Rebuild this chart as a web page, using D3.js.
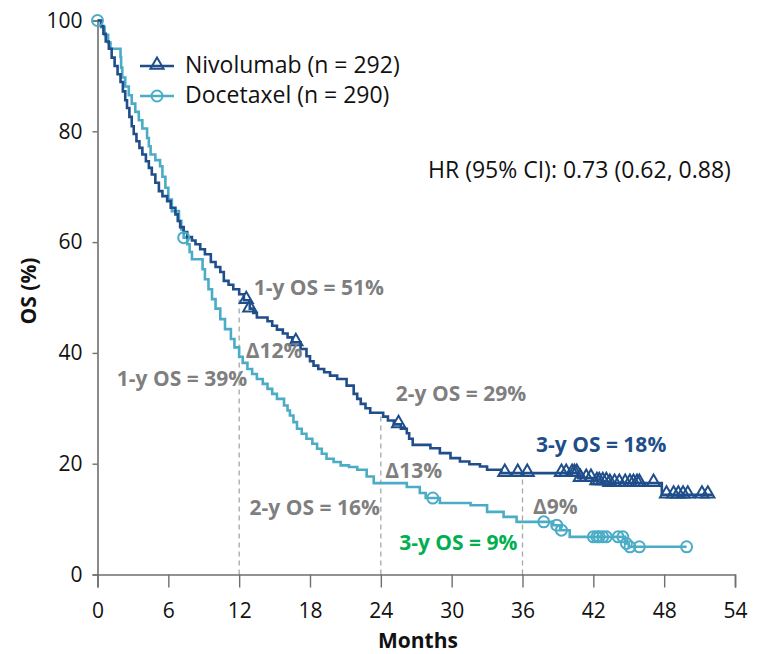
<!DOCTYPE html>
<html>
<head>
<meta charset="utf-8">
<script src="https://cdn.jsdelivr.net/npm/d3@7"></script>
<style>
  body { margin: 0; background: #fff; }
  text { font-family: "Open Sans", "DejaVu Sans", sans-serif; }
</style>
</head>
<body>
<svg id="chart" width="782" height="654"></svg>
<script>
// Kaplan-Meier step points: [month, overall survival %]
const nivolumabSteps = [
  [0,100],[0.3,99.0],[0.5,97.6],[0.7,96.2],[0.96,94.9],[1.2,93.3],[1.45,91.8],[1.7,90.3],
  [1.95,88.9],[2.15,87.2],[2.35,85.6],[2.5,84.2],[2.7,82.6],[2.9,80.9],[3.07,79.5],[3.3,78.2],
  [3.55,77.0],[3.8,75.8],[4.1,74.6],[4.35,73.4],[4.6,72.2],[4.9,70.7],[5.2,69.2],[5.5,68.3],
  [5.9,67.4],[6.2,66.2],[6.6,65.0],[6.8,63.8],[7.0,62.7],[7.3,61.8],[7.6,60.9],[8.0,60.3],
  [8.3,59.6],[8.7,58.7],[9.1,57.8],[9.6,56.4],[10.0,55.5],[10.4,54.6],[10.7,53.0],[11.1,52.3],
  [11.5,51.5],[12.0,50.6],[12.4,49.5],[12.9,48.0],[13.2,47.2],[13.5,46.4],[14.4,45.7],[14.8,44.9],
  [15.2,44.2],[15.7,43.5],[16.1,42.8],[16.5,41.9],[17.2,40.7],[17.7,39.4],[18.0,38.5],[18.3,37.7],
  [18.7,37.1],[19.2,36.5],[19.7,35.9],[20.3,35.3],[21.1,34.1],[21.7,32.6],[22.0,31.7],[22.3,30.8],
  [22.7,30.0],[23.1,29.2],[24.2,28.5],[24.6,27.8],[25.1,27.1],[25.7,26.3],[26.2,25.5],[26.4,24.5],
  [26.7,23.4],[28.2,22.8],[29.0,21.9],[29.9,21.0],[30.7,20.4],[31.5,19.9],[32.4,19.5],[33.0,18.9],
  [34.2,18.3],[40.7,17.4],[42.3,16.8],[43.4,16.5],[47.8,14.4],[52.1,14.4]
];
const docetaxelSteps = [
  [0,100],[0.3,98.8],[0.6,97.4],[0.9,96.0],[1.1,94.9],[1.95,93.4],[2.0,91.5],[2.1,89.7],
  [2.35,88.1],[2.65,86.5],[2.9,85.0],[3.2,83.5],[3.5,82.0],[3.8,80.5],[4.2,78.8],[4.35,77.3],
  [4.5,75.8],[4.9,74.8],[5.3,73.7],[5.5,71.8],[5.75,69.8],[6.0,67.7],[6.3,65.6],[6.9,63.8],
  [7.1,62.3],[7.3,60.8],[7.6,59.6],[7.8,58.2],[8.0,56.9],[8.9,55.1],[9.1,53.3],[9.4,51.5],
  [9.7,49.7],[10.0,48.0],[10.4,46.1],[10.8,44.3],[11.3,42.5],[11.6,41.0],[12.0,39.3],[12.3,38.2],
  [12.7,37.1],[13.1,36.2],[13.5,35.3],[14.0,34.4],[14.4,33.5],[14.8,32.6],[15.2,31.7],[15.8,30.5],
  [16.1,29.6],[16.3,28.7],[16.6,27.5],[16.9,26.3],[17.3,25.4],[17.7,24.5],[18.2,23.6],[18.6,22.7],
  [19.0,21.8],[19.4,20.9],[20.0,20.3],[20.6,19.7],[21.3,19.4],[22.0,18.9],[22.8,17.7],[23.4,16.5],
  [26.2,15.8],[27.3,14.7],[27.8,13.8],[29.0,12.9],[31.6,12.5],[33.0,11.3],[34.4,10.4],[35.5,9.5],
  [38.6,8.9],[39.2,8.0],[40.0,6.8],[44.7,5.6],[45.0,5.0],[49.9,5.0]
];
// Censored observations (months)
const nivolumabCensored = [12.6,12.9,16.8,25.5,34.5,35.6,36.4,39.3,39.7,40.2,40.4,40.6,40.9,
  41.4,41.8,42.3,42.5,42.8,43.1,43.4,43.8,44.2,44.7,45.1,45.4,45.7,45.9,47.1,
  48.2,48.8,49.2,49.6,50.0,51.2,51.7];
const docetaxelCensored = [7.3,28.4,37.8,38.9,39.3,42.0,42.3,42.5,42.8,43.1,44.1,44.5,44.8,45.1,45.9,49.9];

const monthTicks = [0,6,12,18,24,30,36,42,48,54];
const osTicks = [0,20,40,60,80,100];
const landmarkMonths = [12,24,36];
const nivolumabLandmarkOS = [51,29,18];
const docetaxelLandmarkOS = [39,16,9];
const seriesLabels = ["Nivolumab (n = 292)", "Docetaxel (n = 290)"];
const hazardRatioLabel = "HR (95% CI): 0.73 (0.62, 0.88)";
const xAxisTitle = "Months";
const yAxisTitle = "OS (%)";

const NIVO = "#1f4e8a", DOCE = "#4bacc6", GREY = "#7f7f7f", GREEN = "#00b050";

const svg = d3.select("#chart");
svg.append("rect").attr("width", 782).attr("height", 654).attr("fill", "#fff");

const x = d3.scaleLinear().domain([0, 54]).range([97.5, 735]);
const y = d3.scaleLinear().domain([0, 100]).range([574.5, 20.5]);

// survival value of a step curve at a given month
function survivalAt(steps, t) {
  let v = steps[0][1];
  for (const [m, s] of steps) { if (m <= t) v = s; else break; }
  return v;
}

// landmark guide lines
svg.append("g").selectAll("line").data(landmarkMonths).join("line")
  .attr("x1", d => x(d)).attr("x2", d => x(d))
  .attr("y1", y(0)).attr("y2", d => y(survivalAt(nivolumabSteps, d)))
  .attr("stroke", "#a6a6a6").attr("stroke-width", 1.3).attr("stroke-dasharray", "5,4");

// axes
const xAxis = svg.append("g").attr("transform", `translate(0,${y(0)})`)
  .call(d3.axisBottom(x).tickValues(monthTicks).tickSize(13).tickPadding(16).tickFormat(d3.format("d")));
const yAxis = svg.append("g").attr("transform", `translate(${x(0)},0)`)
  .call(d3.axisLeft(y).tickValues(osTicks).tickSize(5).tickPadding(10).tickFormat(d3.format("d")));
[xAxis, yAxis].forEach(g => {
  g.select(".domain").attr("stroke", "#6f6f6f").attr("stroke-width", 1.6);
  g.selectAll(".tick line").attr("stroke", "#6f6f6f").attr("stroke-width", 1.4);
  g.selectAll(".tick text").attr("fill", "#111").attr("font-size", 21)
    .style("font-family", '"Open Sans", sans-serif');
});
xAxis.selectAll(".tick text").attr("dy", "0.71em");

svg.append("text").attr("x", 418).attr("y", 648).attr("text-anchor", "middle")
  .attr("font-size", 21).attr("font-weight", "bold")
  .attr("fill", "#111").text(xAxisTitle);
svg.append("text").attr("transform", "translate(28,291) rotate(-90)").attr("text-anchor", "middle")
  .attr("dominant-baseline", "central").attr("font-size", 21).attr("font-weight", "bold")
  .attr("fill", "#111").text(yAxisTitle);

// curves
const line = d3.line().x(d => x(d[0])).y(d => y(d[1])).curve(d3.curveStepAfter);
svg.append("path").datum(docetaxelSteps).attr("d", line)
  .attr("fill", "none").attr("stroke", DOCE).attr("stroke-width", 2.6);
svg.append("path").datum(nivolumabSteps).attr("d", line)
  .attr("fill", "none").attr("stroke", NIVO).attr("stroke-width", 2.6);

const tri = d3.symbol().type(d3.symbolTriangle).size(75);
function triangle(g, cx, cy) {
  g.append("path").attr("d", tri()).attr("transform", `translate(${cx},${cy - 1})`)
    .attr("fill", "none").attr("stroke", NIVO).attr("stroke-width", 2);
}
function circle(g, cx, cy) {
  g.append("circle").attr("cx", cx).attr("cy", cy).attr("r", 5.5)
    .attr("fill", "none").attr("stroke", DOCE).attr("stroke-width", 2);
}
// censor markers
const marks = svg.append("g");
circle(marks, x(0), y(100));
docetaxelCensored.forEach(t => circle(marks, x(t), y(survivalAt(docetaxelSteps, t))));
nivolumabCensored.forEach(t => triangle(marks, x(t), y(survivalAt(nivolumabSteps, t))));

// legend
const legend = svg.append("g");
[[NIVO, 66, triangle], [DOCE, 96, circle]].forEach(([c, ly, mk], i) => {
  legend.append("line").attr("x1", 140).attr("x2", 174).attr("y1", ly).attr("y2", ly)
    .attr("stroke", c).attr("stroke-width", 2.4);
  mk(legend, 157, ly);
  legend.append("text").attr("x", 185).attr("y", ly + 7).attr("font-size", 23)
    .attr("fill", "#111").text(seriesLabels[i]);
});

svg.append("text").attr("x", 428).attr("y", 178).attr("font-size", 23)
  .attr("fill", "#111").text(hazardRatioLabel);

// landmark annotations
const ann = svg.append("g").attr("font-weight", "bold").attr("font-size", 21);
function label(txt, px, py, color, anchor) {
  ann.append("text").attr("x", px).attr("y", py).attr("dominant-baseline", "central")
    .attr("text-anchor", anchor || "start").attr("fill", color).text(txt);
}
const nivoText = (i) => `${i + 1}-y OS = ${nivolumabLandmarkOS[i]}%`;
const doceText = (i) => `${i + 1}-y OS = ${docetaxelLandmarkOS[i]}%`;
const delta = (i) => `\u0394${nivolumabLandmarkOS[i] - docetaxelLandmarkOS[i]}%`;

label(nivoText(0), x(12) + 14.5, 287, GREY);
label(delta(0), x(12) + 6.5, 350, GREY);
label(doceText(0), x(12) + 8, 378, GREY, "end");
label(nivoText(1), x(24) + 15, 393, GREY);
label(delta(1), x(24) + 4.5, 470, GREY);
label(doceText(1), x(24) - 1, 507, GREY, "end");
label(nivoText(2), x(36) + 13.5, 444, NIVO);
label(delta(2), x(36) + 10.5, 506, GREY);
label(doceText(2), x(36) - 5, 542, GREEN, "end");
</script>
</body>
</html>
